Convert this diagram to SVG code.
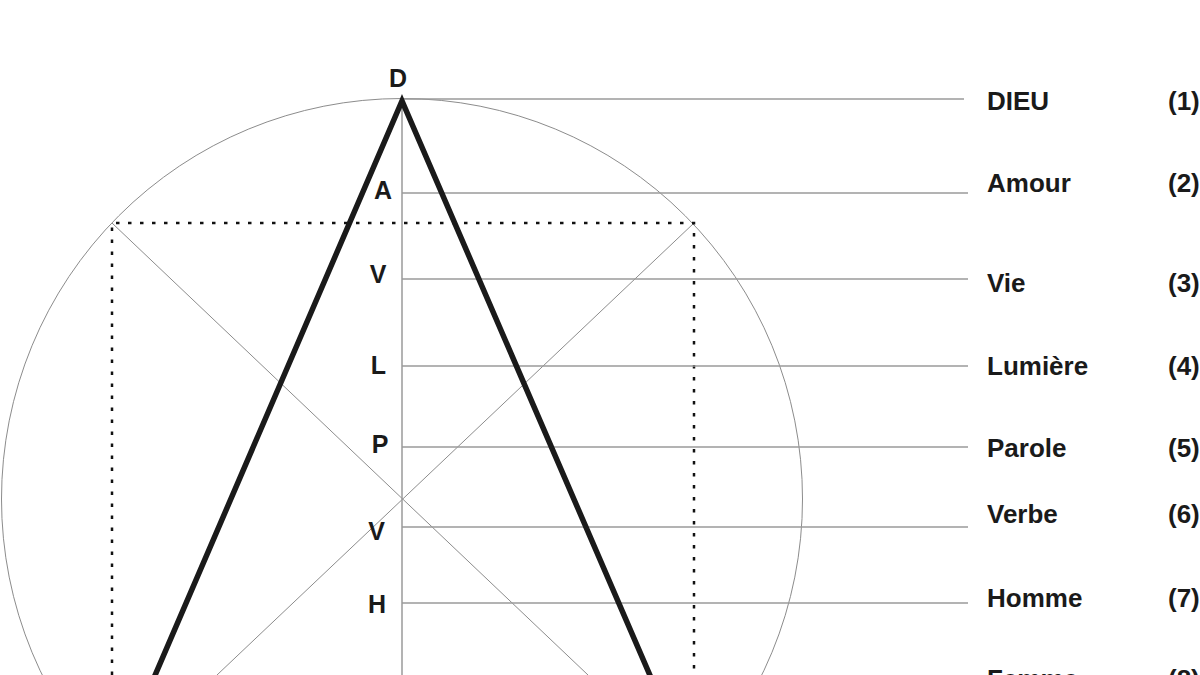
<svg xmlns="http://www.w3.org/2000/svg" width="1200" height="675" viewBox="0 0 1200 675">
<style>
.thin{fill:none;stroke:#8c8c8c;stroke-width:1}
.lvl{fill:none;stroke:#9a9a9a;stroke-width:1.5}
.dot{fill:none;stroke:#111;stroke-width:2.5;stroke-dasharray:3.5 8.5}
.tri{fill:none;stroke:#1a1a1a;stroke-width:5.5;stroke-linejoin:miter;stroke-miterlimit:10}
.t{font-family:"Liberation Sans",Arial,sans-serif;font-weight:bold;font-size:25px;fill:#1a1a1a}
.r{font-size:26px}
.m{text-anchor:middle}
</style>
<rect width="1200" height="675" fill="#fff"/>
<g id="construction">
<circle class="thin" cx="402" cy="499" r="400.5"/>
<line class="thin" x1="112" y1="223" x2="588" y2="675"/>
<line class="thin" x1="694" y1="223" x2="217" y2="675"/>
<line class="lvl" x1="402" y1="99" x2="402" y2="675"/>
<path class="dot" d="M112,675 V223 H694 V675"/>
</g>
<g id="connectors">
<line class="lvl" x1="402" y1="99" x2="964" y2="99"/>
<line class="lvl" x1="402" y1="193" x2="968" y2="193"/>
<line class="lvl" x1="402" y1="279" x2="968" y2="279"/>
<line class="lvl" x1="402" y1="366" x2="968" y2="366"/>
<line class="lvl" x1="402" y1="447" x2="968" y2="447"/>
<line class="lvl" x1="402" y1="527" x2="968" y2="527"/>
<line class="lvl" x1="402" y1="603" x2="968" y2="603"/>
</g>
<g id="triangle">
<path class="tri" d="M153,680 L402,101 L652,680"/>
</g>
<g id="letters">
<text class="t m" x="398" y="87">D</text>
<text class="t m" x="383" y="199">A</text>
<text class="t m" x="378" y="283">V</text>
<text class="t m" x="378.5" y="374">L</text>
<text class="t m" x="380" y="453">P</text>
<text class="t m" x="376.5" y="540">V</text>
<text class="t m" x="377" y="613">H</text>
</g>
<g id="n1"><text class="t r" x="987" y="110">DIEU</text><text class="t r" x="1168" y="110">(1)</text></g>
<g id="n2"><text class="t r" x="987" y="192">Amour</text><text class="t r" x="1168" y="192">(2)</text></g>
<g id="n3"><text class="t r" x="987" y="292">Vie</text><text class="t r" x="1168" y="292">(3)</text></g>
<g id="n4"><text class="t r" x="987" y="375">Lumière</text><text class="t r" x="1168" y="375">(4)</text></g>
<g id="n5"><text class="t r" x="987" y="457">Parole</text><text class="t r" x="1168" y="457">(5)</text></g>
<g id="n6"><text class="t r" x="987" y="523">Verbe</text><text class="t r" x="1168" y="523">(6)</text></g>
<g id="n7"><text class="t r" x="987" y="607">Homme</text><text class="t r" x="1168" y="607">(7)</text></g>
<g id="n8"><text class="t r" x="987" y="688">Femme</text><text class="t r" x="1168" y="688">(8)</text></g>
</svg>
